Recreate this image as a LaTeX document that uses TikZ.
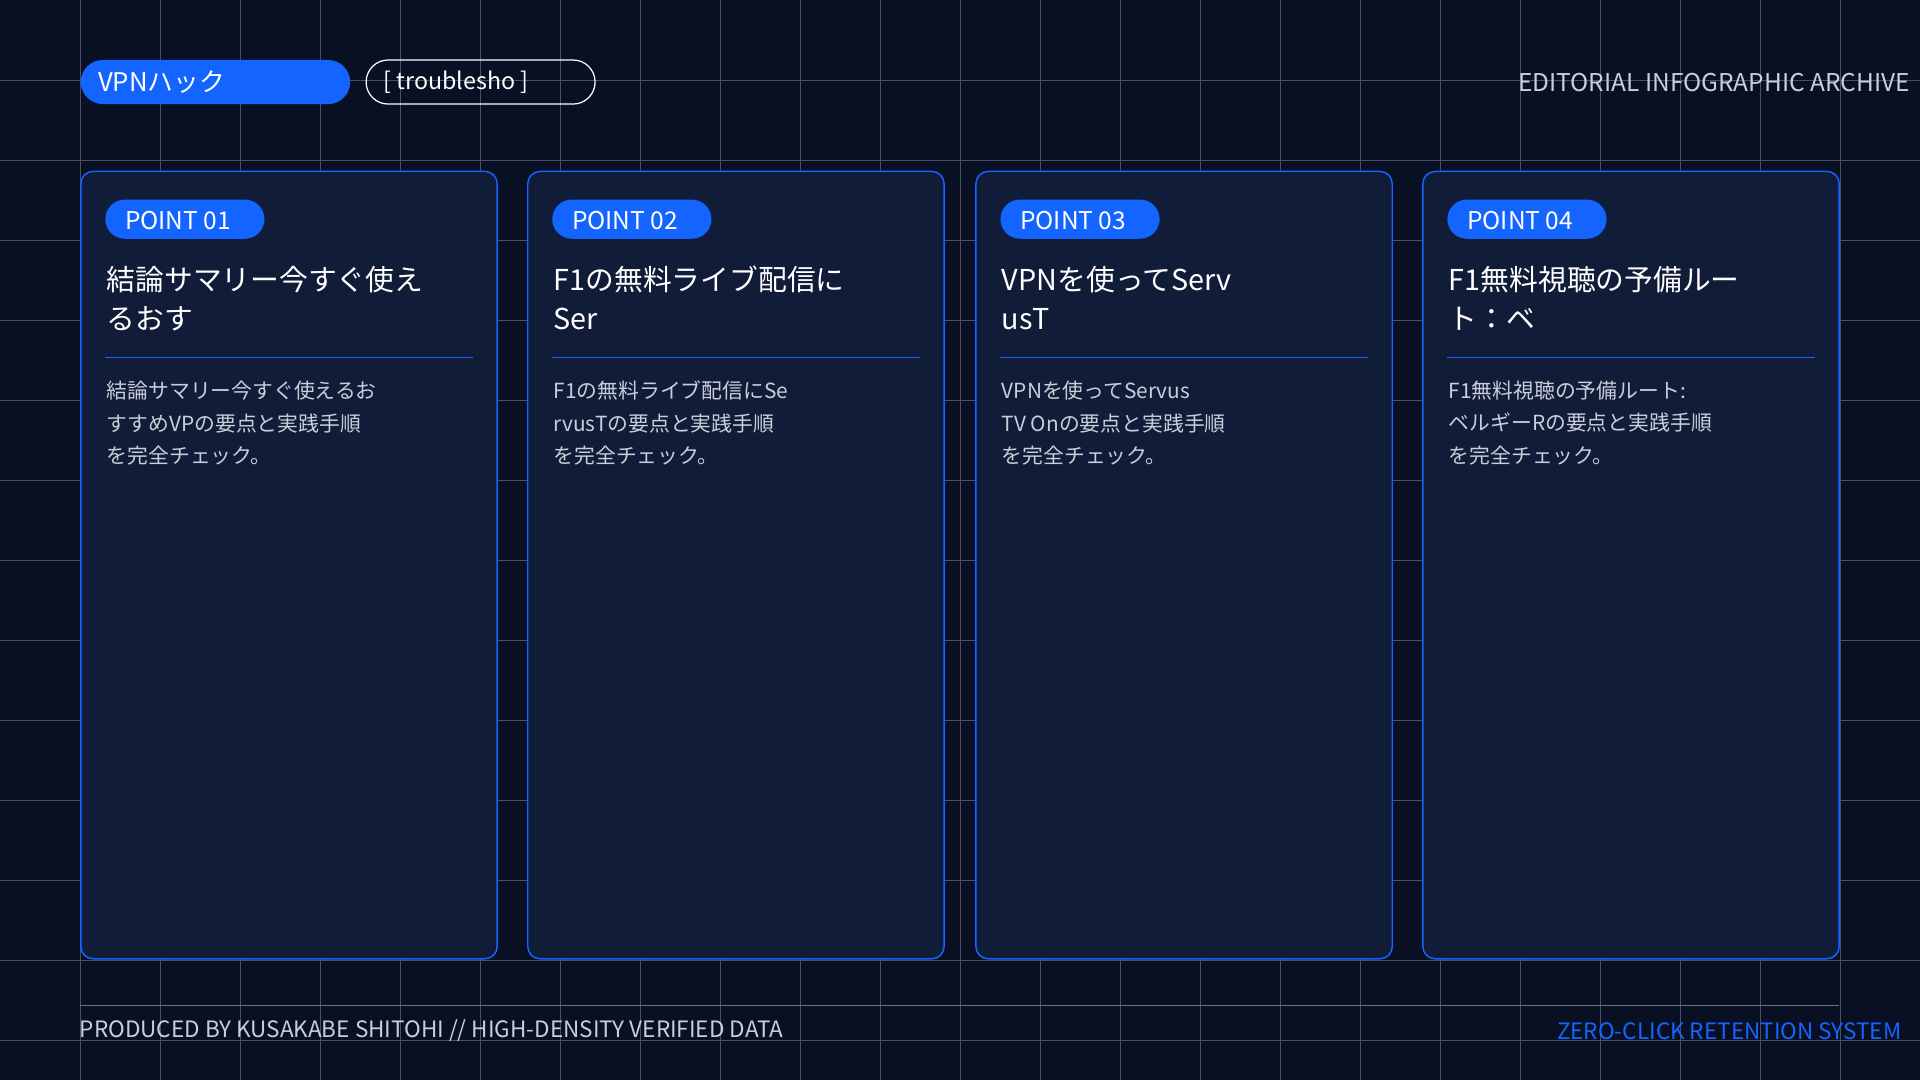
\documentclass[tikz,border=0pt]{standalone}
\usepackage{fontspec}
\setmainfont{Noto Sans CJK JP}
\definecolor{bg}{HTML}{0A1024}
\definecolor{card}{HTML}{111C38}
\definecolor{blu}{HTML}{1464FF}
\definecolor{gridc}{HTML}{4A5068}
\definecolor{txt}{HTML}{C8CEDA}
\begin{document}
\begin{tikzpicture}[x=1pt,y=-1pt,
  card/.style={draw=blu,fill=card,rounded corners=10pt,line width=1.2pt},
  ttl/.style={text=white,font=\fontsize{23.5}{32}\selectfont,anchor=north west,align=left,inner sep=0pt},
  bdy/.style={text=txt,font=\fontsize{17}{26.5}\selectfont,anchor=north west,align=left,inner sep=0pt}]
\useasboundingbox (0,0) rectangle (1568,882);
\fill[bg] (0,0) rectangle (1568,882);
\foreach \i in {1,...,23} \draw[gridc,line width=0.6pt] (\i*65.333,0) -- (\i*65.333,882);
\foreach \j in {1,...,13} \draw[gridc,line width=0.6pt] (0,\j*65.333) -- (1568,\j*65.333);
% header
\fill[blu,rounded corners=18pt] (66,49) rectangle (286,85);
\node[text=white,anchor=west,font=\fontsize{21}{22}\selectfont,inner sep=0pt] (h1) at (80,67) {VPNハック};
\draw[white,rounded corners=18pt,line width=1pt] (299,49) rectangle (486,85);
\node[text=white,anchor=west,font=\fontsize{19}{20}\selectfont,inner sep=0pt] (h2) at (313,67) {[ troublesho ]};
\node[text=txt,anchor=east,font=\fontsize{20}{20}\selectfont,inner sep=0pt] (h3) at (1560,67) {EDITORIAL INFOGRAPHIC ARCHIVE};
% cards
\foreach \x/\n/\t/\b in {
 66/01/{結論サマリー今すぐ使え\\るおす}/{結論サマリー今すぐ使えるお\\すすめVPの要点と実践手順\\を完全チェック。},
 431/02/{F1の無料ライブ配信に\\Ser}/{F1の無料ライブ配信にSe\\rvusTの要点と実践手順\\を完全チェック。},
 797/03/{VPNを使ってServ\\usT}/{VPNを使ってServus\\TV Onの要点と実践手順\\を完全チェック。},
 1162/04/{F1無料視聴の予備ルー\\ト：ベ}/{F1無料視聴の予備ルート:\\ベルギーRの要点と実践手順\\を完全チェック。}}{
 \draw[card] (\x,140) rectangle (\x+340,783);
 \fill[blu,rounded corners=16pt] (\x+20,163) rectangle (\x+150,195);
 \node[text=white,anchor=west,font=\fontsize{20}{20}\selectfont,inner sep=0pt] at (\x+36,180) {POINT \n};
 \node[ttl] at (\x+21,217) {\t};
 \draw[blu,line width=1.2pt] (\x+20,292) -- (\x+320,292);
 \node[bdy] at (\x+21,311) {\b};
}
% footer
\draw[gridc!80!white,line width=0.8pt] (65,821) -- (1502,821);
\node[text=txt,anchor=west,font=\fontsize{18.4}{20}\selectfont,inner sep=0pt] (f1) at (65,842) {PRODUCED BY KUSAKABE SHITOHI // HIGH-DENSITY VERIFIED DATA};
\node[text=blu,anchor=east,font=\fontsize{18.4}{20}\selectfont,inner sep=0pt] (f2) at (1553,842) {ZERO-CLICK RETENTION SYSTEM};
\end{tikzpicture}
\end{document}
